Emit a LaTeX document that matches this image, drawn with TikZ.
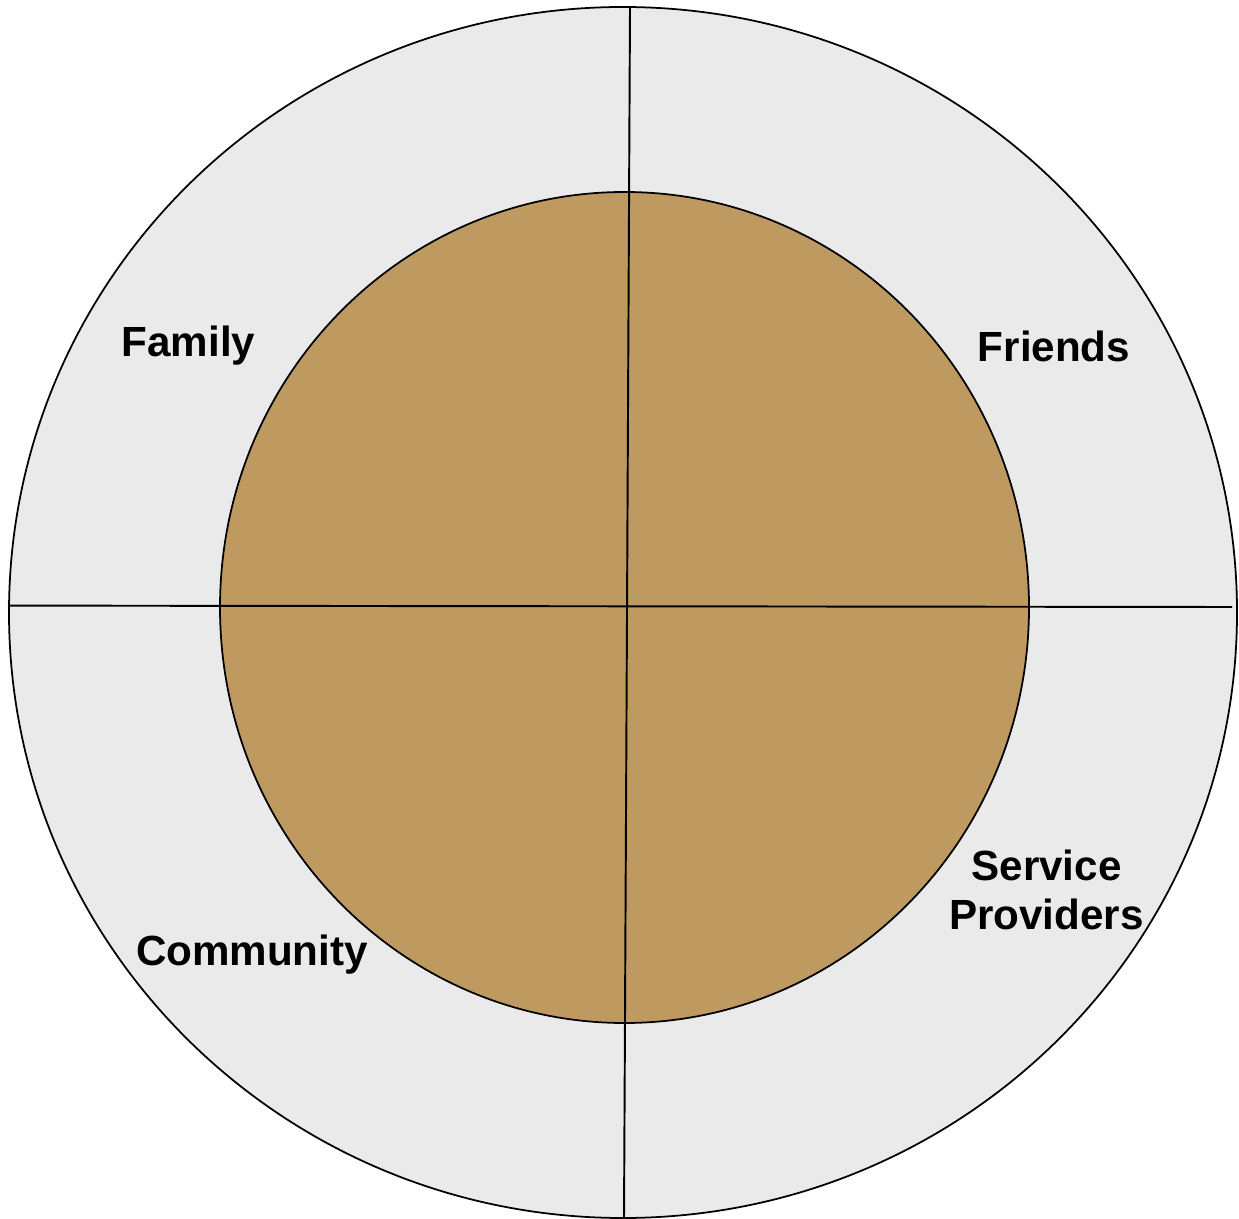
\documentclass[tikz,border=0pt]{standalone}
\usepackage{fontspec}
\setmainfont{Liberation Sans}
\usepackage{tikz}
\usetikzlibrary{positioning}
\definecolor{ringgray}{RGB}{234,234,234}
\definecolor{coretan}{RGB}{191,154,96}

\begin{document}
\begin{tikzpicture}[
    sector/.style={font=\fontsize{12}{14}\selectfont\bfseries, align=center, inner sep=0pt},
    rim/.style={draw=black, line width=0.5pt}
  ]
  \useasboundingbox (0,0) rectangle (12.39,12.18);
  % outer ring and inner core
  \filldraw[rim, fill=ringgray] (6.23,6.055) ellipse [x radius=6.14, y radius=6.055];
  \filldraw[rim, fill=coretan] (6.245,6.105) ellipse [x radius=4.045, y radius=4.155];
  % quadrant dividers
  \coordinate (top) at (6.30,12.11);
  \coordinate (bottom) at (6.24,0);
  \coordinate (left) at (0.08,6.124);
  \coordinate (right) at (12.32,6.11);
  \draw[line width=0.55pt] (top) -- (bottom);
  \draw[line width=0.55pt] (left) -- (right);
  % sector labels
  \node[sector] (family) at (1.885,8.72) {Family};
  \node[sector] (friends) at (10.54,8.72) {Friends};
  \node[sector] (service) at (10.465,3.28) {Service\\Providers};
  \node[sector] (community) at (2.52,2.63) {Community};
\end{tikzpicture}
\end{document}
